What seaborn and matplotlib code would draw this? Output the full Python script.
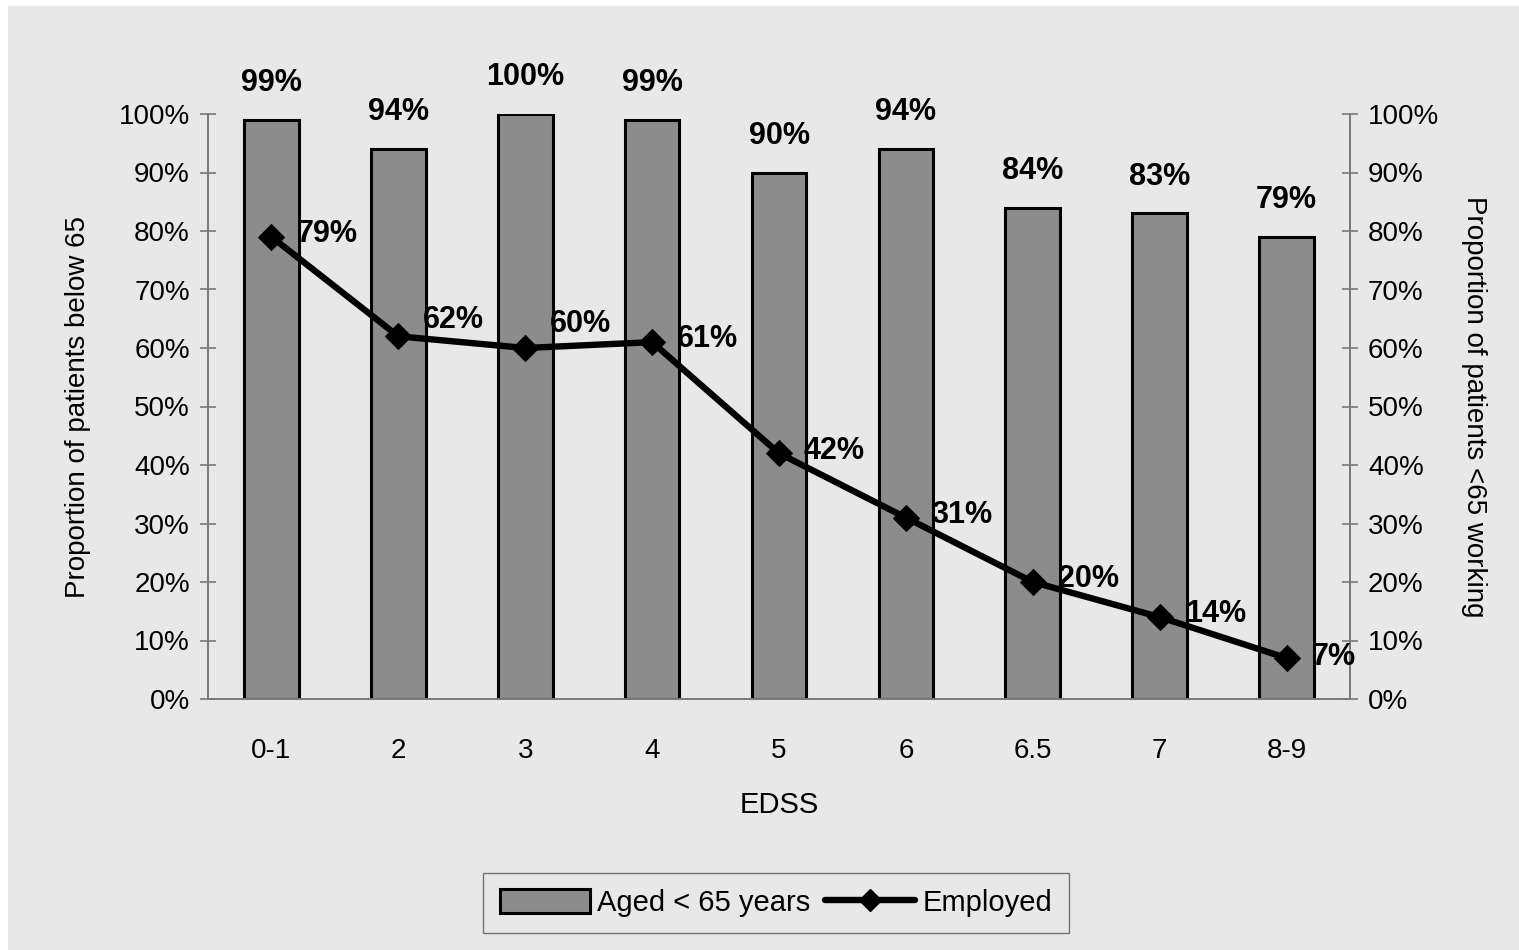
import matplotlib
matplotlib.use("Agg")
import matplotlib.pyplot as plt
import matplotlib.patches as mpatches
import numpy as np
import pandas as pd
import seaborn as sns

# Data
edss = ["0-1", "2", "3", "4", "5", "6", "6.5", "7", "8-9"]
aged_below_65 = [99, 94, 100, 99, 90, 94, 84, 83, 79]
employed = [79, 62, 60, 61, 42, 31, 20, 14, 7]

df = pd.DataFrame({"edss": edss, "aged": aged_below_65, "employed": employed})
df["pos"] = np.arange(len(df))

sns.set_style("white")
plt.rcParams["font.family"] = ["Liberation Sans", "DejaVu Sans"]
plt.rcParams["text.color"] = "black"
plt.rcParams["xtick.color"] = "black"
plt.rcParams["ytick.color"] = "black"
plt.rcParams["axes.labelcolor"] = "black"

bg = "#e8e8e8"
axis_grey = "#7a7a7a"

fig = plt.figure(figsize=(15.19, 9.5), dpi=100, facecolor="white")
fig.patches.append(mpatches.Rectangle((8 / 1519, 0.0), 1 - 8 / 1519, 1 - 6 / 950,
                                      transform=fig.transFigure, facecolor=bg,
                                      edgecolor="none", zorder=-10))

ax = fig.add_axes([208 / 1519, 1 - 699 / 950, (1350 - 208) / 1519, (699 - 114) / 950])
ax.set_facecolor("none")

sns.barplot(data=df, x="edss", y="aged", color="#8c8c8c", saturation=1,
            width=0.43, edgecolor="black", linewidth=2.2, ax=ax)
ax.set_xlim(-0.5, len(edss) - 0.5)
ax.set_ylim(0, 100)

for p, v in zip(ax.patches, aged_below_65):
    ax.annotate(f"{v}%", (p.get_x() + p.get_width() / 2, p.get_height()),
                xytext=(0, 26.5), textcoords="offset points", ha="center", va="center",
                fontsize=22, fontweight="bold", annotation_clip=False)

ax2 = ax.twinx()
ax2.set_facecolor("none")
sns.lineplot(data=df, x="pos", y="employed", color="black", linewidth=4.6,
             marker="D", markersize=13.5, markeredgecolor="black", ax=ax2)
ax2.set_xlim(-0.5, len(edss) - 0.5)
ax2.set_ylim(0, 100)

label_dy = [2, 12, 17, 2, 2, 2, 2, 2, 1]
for x, v, dy in zip(df["pos"], employed, label_dy):
    ax2.annotate(f"{v}%", (x, v), xytext=(18, dy), textcoords="offset points",
                 ha="left", va="center", fontsize=22, fontweight="bold",
                 annotation_clip=False)

# axes styling
yt = np.arange(0, 101, 10)
for a in (ax, ax2):
    a.set_yticks(yt)
    a.set_yticklabels([f"{t}%" for t in yt])
    a.spines["top"].set_visible(False)
    for s in a.spines.values():
        s.set_color(axis_grey)
        s.set_linewidth(1.4)
    a.tick_params(axis="y", direction="inout", length=12, width=1.2,
                  color=axis_grey, labelcolor="black", labelsize=20, pad=7)

ax.spines["right"].set_visible(False)
ax2.spines["left"].set_visible(False)
ax2.spines["bottom"].set_visible(False)

ax.set_xticks(df["pos"])
ax.set_xticklabels(edss)
ax.set_xticks(np.arange(-0.5, len(edss), 1.0), minor=True)
ax.tick_params(axis="x", which="major", length=0, labelsize=20, pad=28)
ax.tick_params(axis="x", which="minor", direction="inout", length=16, width=1.2,
               color=axis_grey)
ax2.tick_params(axis="x", which="both", bottom=False, labelbottom=False)

ax.set_xlabel("EDSS", fontsize=21)
ax.xaxis.set_label_coords(0.5, -0.181)
ax.xaxis.label.set_verticalalignment("center")
ax.set_ylabel("Proportion of patients below 65", fontsize=20)
ax.yaxis.set_label_coords(-0.114, 0.5)
ax.yaxis.label.set_verticalalignment("center")
ax2.set_ylabel("Proportion of patients <65 working", fontsize=20, rotation=270)
ax2.yaxis.set_label_coords(1.109, 0.5)
ax2.yaxis.label.set_verticalalignment("center")

# legend
handles = [mpatches.Patch(facecolor="#8c8c8c", edgecolor="black", linewidth=2.2),
           plt.Line2D([], [], color="black", linewidth=4.6, marker="D", markersize=11)]
fig.legend(handles, ["Aged < 65 years", "Employed"], loc="center",
           bbox_to_anchor=(776 / 1519, 1 - 903 / 950), ncol=2, fontsize=21,
           frameon=True, fancybox=False, facecolor=bg, edgecolor="#555555",
           handlelength=3.1, handleheight=0.9, handletextpad=0.25, columnspacing=0.5,
           borderpad=0.55, borderaxespad=0.0)

fig.savefig("out.png", dpi=100, facecolor="white")
